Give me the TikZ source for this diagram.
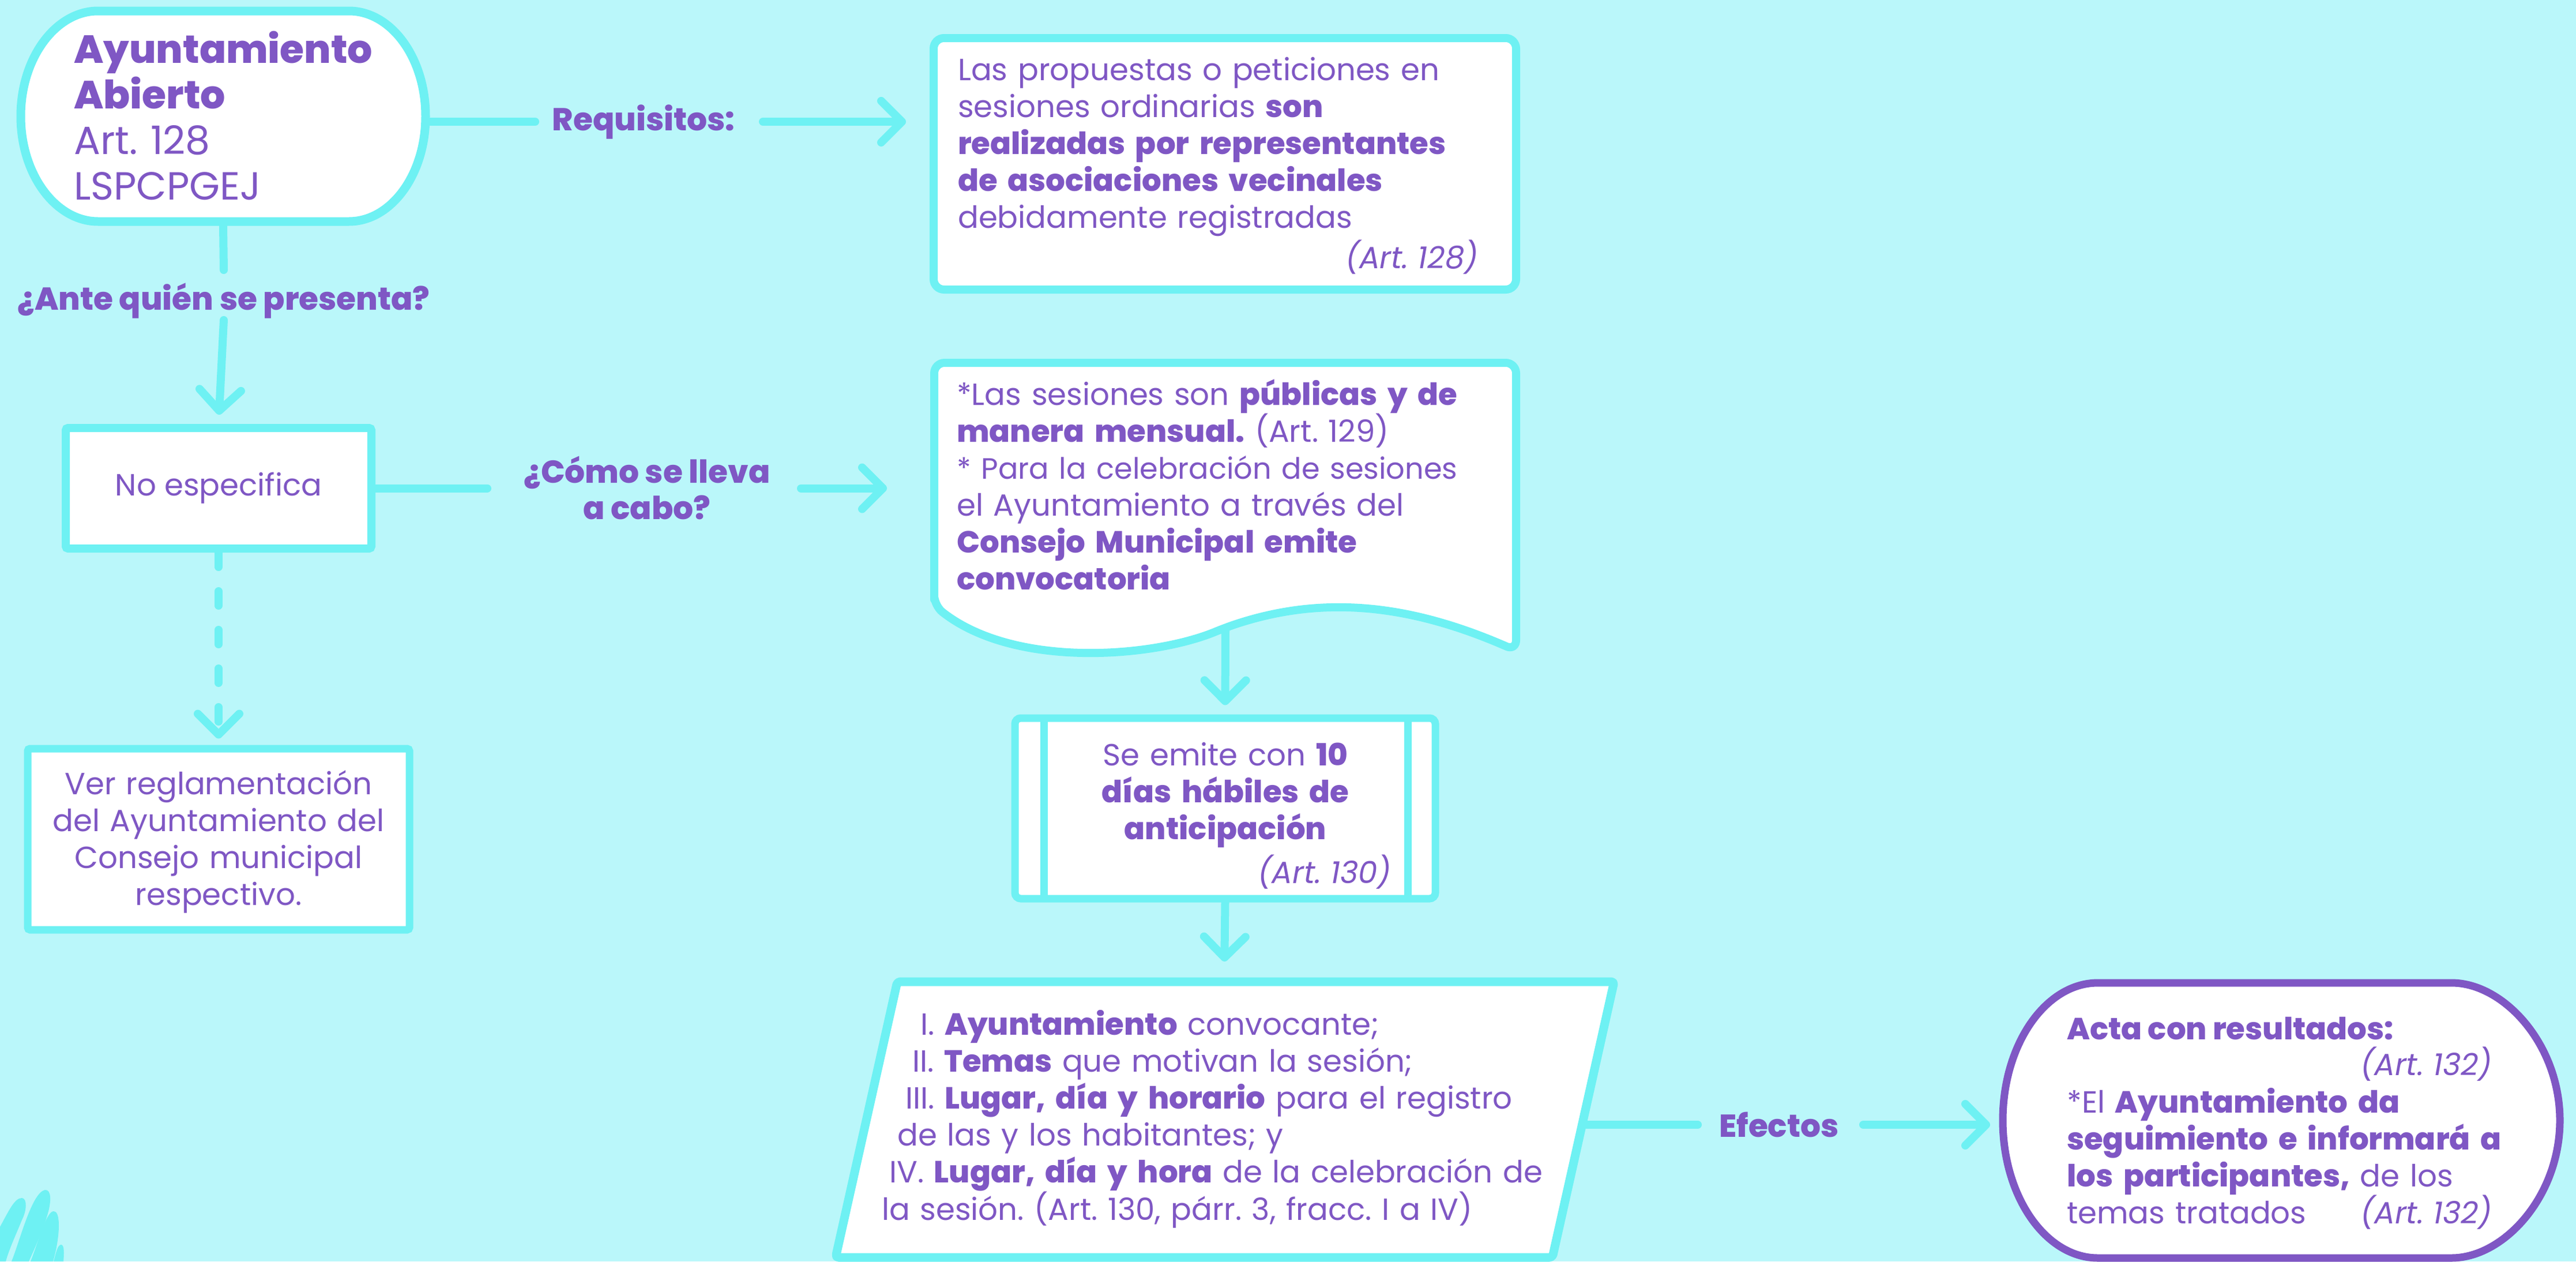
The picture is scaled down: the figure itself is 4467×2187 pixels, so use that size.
\documentclass[tikz,border=0pt]{standalone}
\usepackage{fontspec}
\IfFontExistsTF{Poppins ExtraBold}{\setmainfont{Poppins}[BoldFont={Poppins ExtraBold}]}{\setmainfont{Poppins}}
\usetikzlibrary{arrows.meta}
\definecolor{bgc}{RGB}{186,247,250}
\definecolor{cyanc}{RGB}{110,241,243}
\definecolor{purp}{RGB}{127,87,196}
\frenchspacing
\begin{document}
\begin{tikzpicture}[x=1pt,y=-1pt,
  conn/.style={draw=cyanc,line width=14pt,line cap=round},
  arr/.style={conn,-{Straight Barb[length=36pt,width=72pt,line cap=round,line join=round]}},
  boxc/.style={draw=cyanc,line width=14pt,fill=white,inner sep=0pt},
  ghost/.style={inner sep=0pt,outer sep=0pt},
  body/.style={text=purp,inner sep=0pt,font=\fontsize{53}{64}\selectfont},
  lbl/.style={text=purp,inner sep=0pt,font=\bfseries\fontsize{55}{63}\selectfont},
]
\useasboundingbox (0,0) rectangle (4467,2187);
\fill[bgc] (0,0) rectangle (4467,2187);
% decoration leaves
\fill[cyanc] (0,2127) .. controls (15,2100) and (25,2077) .. (38,2077) .. controls (48,2078) and (46,2100) .. (38,2115) .. controls (28,2140) and (16,2165) .. (10,2187) -- (0,2187) -- cycle;
\fill[cyanc] (20,2187) .. controls (35,2150) and (55,2068) .. (78,2063) .. controls (90,2062) and (88,2085) .. (84,2100) .. controls (76,2130) and (62,2160) .. (50,2187) -- cycle;
\fill[cyanc] (53,2187) .. controls (66,2155) and (80,2100) .. (93,2100) .. controls (104,2100) and (103,2130) .. (100,2150) .. controls (98,2165) and (95,2176) .. (92,2187) -- cycle;
\fill[cyanc] (93,2187) .. controls (97,2172) and (100,2158) .. (106,2158) .. controls (112,2158) and (111,2175) .. (110,2187) -- cycle;

% ---------- anchor nodes ----------
\node[ghost,minimum width=716pt,minimum height=379pt] (n1) at (387,201.5) {};
\node[boxc,rounded corners=18pt,minimum width=1010pt,minimum height=436pt] (box2) at (2124,284) {};
\node[boxc,rounded corners=4pt,minimum width=530pt,minimum height=209pt] (n3) at (379,846.5) {};
\node[boxc,line width=13pt,rounded corners=4pt,minimum width=662pt,minimum height=314pt] (n4) at (379,1455) {};
\node[ghost,minimum width=1023pt,minimum height=514pt] (n5) at (2124.5,879) {};
\coordinate (docb) at (2125,1088);
\node[boxc,line width=13pt,rounded corners=10pt,minimum width=729pt,minimum height=313pt] (n6) at (2124.5,1401.5) {};
\node[ghost,minimum width=1370pt,minimum height=493pt] (n7) at (2123,1940.5) {};
\coordinate (pr) at (2751,1950);
\node[ghost,minimum width=980pt,minimum height=490pt] (n8) at (3956,1942) {};

% labels
\node[lbl] (lreq) at (1116,211) {Requisitos:};
\node[lbl] (lante) at (388,521) {¿Ante quién se presenta?};
\node[lbl,align=center] (lcomo) at (1122,846) {¿Cómo se lleva\\a cabo?};
\node[lbl] (leff) at (3085,1950) {Efectos};

% ---------- connectors ----------
\draw[conn] (n1.east |- lreq) -- ([xshift=-188pt]lreq.center);
\draw[arr,shorten >=41pt] ([xshift=207pt]lreq.center) -- (box2.west |- lreq);
\draw[conn] (n1.south) -- ([yshift=53pt]lante.center);
\draw[arr,shorten >=16pt] ([yshift=-34pt]lante.center) -- (n3.north);
\draw[conn] (n3.east) -- ([xshift=-277pt]n3.east -| lcomo.center);
\draw[arr,shorten >=75pt] ([xshift=267pt]n3.east -| lcomo.center) -- (n3.east -| n5.west);
\draw[arr,dash pattern=on 25pt off 42pt,shorten >=11pt] (n3.south) -- (n4.north);
\draw[arr,shorten >=16pt] (docb) -- (n6.north);
\draw[arr,shorten >=27pt] (n6.south) -- (n7.north);
\draw[conn] (pr) -- ([xshift=-141pt]leff.center);
\draw[arr,shorten >=15pt] ([xshift=146pt]leff.center) -- (n8.west |- leff);

% ---------- custom shapes ----------
\draw[cyanc,line width=15pt,fill=white] (170,19) -- (605,19) .. controls (678,19) and (738,100) .. (738,201.5) .. controls (738,303) and (678,384) .. (605,384) -- (170,384) .. controls (97,384) and (36,303) .. (36,201.5) .. controls (36,100) and (97,19) .. (170,19) -- cycle;
\draw[cyanc,line width=14pt,fill=white,line join=round,rounded corners=18pt] (1620,1050) -- (1620,629) -- (2629,629) -- (2629,1128) .. controls (2450,1050) and (2300,1030) .. (2125,1088) .. controls (2000,1140) and (1760,1160) .. (1620,1050) -- cycle;
\draw[cyanc,line width=13pt] (1810,1245) -- (1810,1558);
\draw[cyanc,line width=13pt] (2441,1245) -- (2441,1558);
\draw[cyanc,line width=15pt,fill=white,line join=round,rounded corners=5pt] (1556,1702) -- (2799,1702) -- (2692,2180) -- (1449,2180) -- cycle;
\draw[purp,line width=13pt,fill=white] (3638,1704) -- (4251,1704) .. controls (4342,1704) and (4439,1811) .. (4439,1942.5) .. controls (4439,2074) and (4342,2181) .. (4251,2181) -- (3638,2181) .. controls (3547,2181) and (3473,2074) .. (3473,1942.5) .. controls (3473,1811) and (3547,1704) .. (3638,1704) -- cycle;

% ---------- texts ----------
\node[anchor=base west,text=purp,inner sep=0pt,text width=600pt,align=left,font=\fontsize{68}{79}\selectfont] (t1) at (128,109) {\textbf{Ayuntamiento}\\\textbf{Abierto}\\Art. 128\\LSPCPGEJ};
\node[body,anchor=base west,text width=960pt,align=left] (t2) at (1661,139) {Las propuestas o peticiones en\\sesiones ordinarias \textbf{son}\\\textbf{realizadas por representantes}\\\textbf{de asociaciones vecinales}\\debidamente registradas};
\node[body,anchor=base east] (t2a) at (2564,465) {\textit{(Art. 128)}};
\node[body] (t3) at (n3) {No especifica};
\node[body,anchor=base,text width=640pt,align=center] (t4) at (379,1377) {Ver reglamentación\\del Ayuntamiento del\\Consejo municipal\\respectivo.};
\node[body,anchor=base west,text width=980pt,align=left] (t5) at (1659,702) {*Las sesiones son \textbf{públicas y de}\\\textbf{manera mensual.} (Art. 129)\\{\fontsize{51}{64}\selectfont * Para la celebración de sesiones}\\el Ayuntamiento a través del\\\textbf{Consejo Municipal emite}\\\textbf{convocatoria}};
\node[body,anchor=base,text width=620pt,align=center] (t6) at (2125,1327) {Se emite con \textbf{10}\\\textbf{días hábiles de}\\\textbf{anticipación}};
\node[body,anchor=base east] (t6a) at (2413,1531) {\textit{(Art. 130)}};
\node[body,anchor=base west,text width=1250pt,align=left] (t7) at (1529,1794) {\hspace*{67pt}I. \textbf{Ayuntamiento} convocante;\\\hspace*{53pt}II. \textbf{Temas} que motivan la sesión;\\\hspace*{41pt}III. \textbf{Lugar, día y horario} para el registro\\\hspace*{27pt}de las y los habitantes; y\\\hspace*{13pt}IV. \textbf{Lugar, día y hora} de la celebración de\\la sesión. (Art. 130, párr. 3, fracc. I a IV)};
\node[body,anchor=base west,font=\bfseries\fontsize{53}{64}\selectfont] (t8) at (3584,1802) {Acta con resultados:};
\node[body,anchor=base east] (t8a) at (4322,1864) {\textit{(Art. 132)}};
\node[body,anchor=base west,text width=860pt,align=left] (t8b) at (3584,1929) {*El \textbf{Ayuntamiento da}\\\textbf{seguimiento e informará a}\\\textbf{los participantes,} de los\\temas tratados};
\node[body,anchor=base east] (t8c) at (4322,2121) {\textit{(Art. 132)}};
\end{tikzpicture}
\end{document}
